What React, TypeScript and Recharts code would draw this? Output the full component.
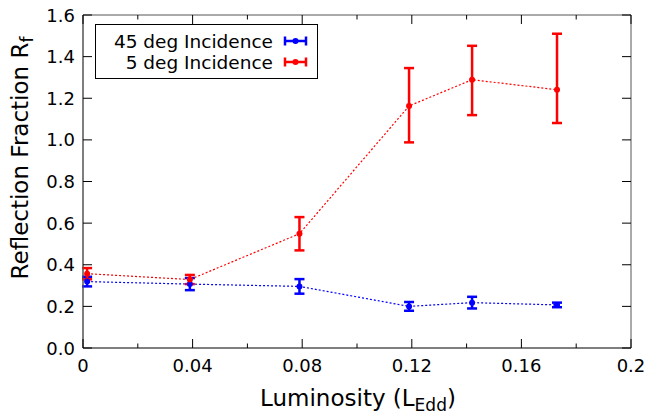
import { ScatterChart, Scatter, XAxis, YAxis, ErrorBar, ReferenceArea } from "recharts";

// luminosity (L_Edd) of each observation
const luminosity = [0.0015, 0.039, 0.079, 0.119, 0.142, 0.173];

// 45 deg incidence
const rf45 = [0.319, 0.307, 0.296, 0.2, 0.218, 0.207];
const rf45Err = [0.023, 0.029, 0.035, 0.021, 0.028, 0.011];

// 5 deg incidence (asymmetric errors)
const rf5 = [0.357, 0.329, 0.549, 1.163, 1.289, 1.241];
const rf5ErrLow = [0.027, 0.022, 0.08, 0.175, 0.17, 0.16];
const rf5ErrHigh = [0.027, 0.022, 0.08, 0.182, 0.163, 0.269];

const xMajorTicks = [0, 0.04, 0.08, 0.12, 0.16, 0.2];
const xMinorTicks = [0.02, 0.06, 0.1, 0.14, 0.18];
const yTicks = [0, 0.2, 0.4, 0.6, 0.8, 1.0, 1.2, 1.4, 1.6];

const W = 651;
const H = 416;
const PLOT_TOP = 15;
const PLOT_RIGHT = 631;
const FONT = "'DejaVu Sans', sans-serif";
const BLUE = "#0000ff";
const RED = "#ff0000";

const data45 = luminosity.map((x, i) => ({ x, y: rf45[i], err: rf45Err[i] }));
const data5 = luminosity.map((x, i) => ({ x, y: rf5[i], err: [rf5ErrLow[i], rf5ErrHigh[i]] }));
const xTicks = [...xMajorTicks, ...xMinorTicks].sort((a, b) => a - b);

const BottomTick = (props: any) => {
  const { x, y, payload } = props;
  const v = payload.value;
  const major = xMajorTicks.includes(v);
  const len = major ? 9 : 4.5;
  return (
    <g>
      <line x1={x} y1={y} x2={x} y2={y - len} stroke="#000" />
      <line x1={x} y1={PLOT_TOP} x2={x} y2={PLOT_TOP + len} stroke="#000" />
      {major && (
        <text x={x} y={y + 24} textAnchor="middle" fontFamily={FONT} fontSize={18} fill="#000">
          {String(v)}
        </text>
      )}
    </g>
  );
};

const LeftTick = (props: any) => {
  const { x, y, payload } = props;
  return (
    <g>
      <line x1={x} y1={y} x2={x + 9} y2={y} stroke="#000" />
      <line x1={PLOT_RIGHT} y1={y} x2={PLOT_RIGHT - 9} y2={y} stroke="#000" />
      <text x={x - 8} y={y + 6.5} textAnchor="end" fontFamily={FONT} fontSize={18} fill="#000">
        {payload.value.toFixed(1)}
      </text>
    </g>
  );
};

const dot = (color: string) => (props: any) => <circle cx={props.cx} cy={props.cy} r={3} fill={color} />;

const LegendKey = ({ y, color }: { y: number; color: string }) => (
  <g stroke={color} strokeWidth={2.5}>
    <line x1={285} y1={y} x2={306} y2={y} />
    <line x1={285} y1={y - 4.5} x2={285} y2={y + 4.5} />
    <line x1={306} y1={y - 4.5} x2={306} y2={y + 4.5} />
    <circle cx={295.5} cy={y} r={3} fill={color} stroke="none" />
  </g>
);

export default function App() {
  return (
    <div style={{ position: "relative", width: W, height: H, background: "#fff" }}>
      <style>{`body{margin:0}`}</style>
      <ScatterChart width={W} height={H} margin={{ top: PLOT_TOP, right: W - PLOT_RIGHT, bottom: 0, left: 0 }}>
        <XAxis
          type="number"
          dataKey="x"
          domain={[0, 0.2]}
          ticks={xTicks}
          interval={0}
          height={68}
          tickSize={0}
          tickMargin={0}
          tickLine={false}
          tick={<BottomTick />}
          axisLine={{ stroke: "#555" }}
          allowDataOverflow
        />
        <YAxis
          type="number"
          dataKey="y"
          domain={[0, 1.6]}
          ticks={yTicks}
          interval={0}
          width={83}
          tickSize={0}
          tickMargin={0}
          tickLine={false}
          tick={<LeftTick />}
          axisLine={{ stroke: "#555" }}
          allowDataOverflow
        />
        <ReferenceArea x1={0} x2={0.2} y1={0} y2={1.6} fill="none" stroke="#555" strokeOpacity={1} />
        <Scatter
          data={data45}
          fill={BLUE}
          line={{ stroke: BLUE, strokeWidth: 1.2, strokeDasharray: "2 2" }}
          shape={dot(BLUE)}
          isAnimationActive={false}
        >
          <ErrorBar dataKey="err" direction="y" width={5} stroke={BLUE} strokeWidth={2.5} />
        </Scatter>
        <Scatter
          data={data5}
          fill={RED}
          line={{ stroke: RED, strokeWidth: 1.2, strokeDasharray: "2 2" }}
          shape={dot(RED)}
          isAnimationActive={false}
        >
          <ErrorBar dataKey="err" direction="y" width={5} stroke={RED} strokeWidth={2.5} />
        </Scatter>
      </ScatterChart>

      <svg width={W} height={H} style={{ position: "absolute", left: 0, top: 0, pointerEvents: "none" }}>
        {/* legend */}
        <rect x={95.5} y={24.5} width={222} height={54} fill="#fff" stroke="#000" />
        <text x={273} y={47.5} textAnchor="end" fontFamily={FONT} fontSize={18.5} fill="#000">
          45 deg Incidence
        </text>
        <LegendKey y={41} color={BLUE} />
        <text x={273} y={69} textAnchor="end" fontFamily={FONT} fontSize={18.5} fill="#000">
          5 deg Incidence
        </text>
        <LegendKey y={62} color={RED} />

        {/* axis titles */}
        <text x={358} y={406} textAnchor="middle" fontFamily={FONT} fontSize={23} fill="#000">
          Luminosity (L<tspan fontSize={17} dy={5}>Edd</tspan>
          <tspan dy={-5}>)</tspan>
        </text>
        <text
          x={28}
          y={158}
          transform="rotate(-90 28 158)"
          textAnchor="middle"
          fontFamily={FONT}
          fontSize={23}
          fill="#000"
        >
          Reflection Fraction R<tspan fontSize={17} dy={5}>f</tspan>
        </text>
      </svg>
    </div>
  );
}
